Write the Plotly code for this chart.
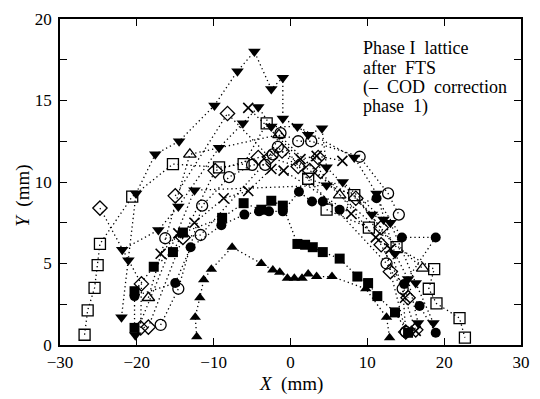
import plotly.graph_objects as go

# ---- data (mm) ----
tri_down1_x = [-22.0, -21.1, -20.1, -17.6, -14.5, -9.9, -6.9, -4.7, -2.5, -1.0, -1.0, 8.3, 11.2, 13.6, 15.3, 16.6]
tri_down1_y = [1.7, 5.2, 9.3, 11.7, 12.5, 14.7, 16.8, 18.0, 15.7, 16.4, 13.9, 11.5, 9.3, 5.6, 4.05, 1.35]
tri_down2_x = [-21.9, -17.2, -14.6, -9.3, -6.2, -4.2, -2.5, 0.9, 2.3, 4.1, 4.7, 10.6, 13.0, 16.3, 18.6]
tri_down2_y = [5.85, 7.05, 8.5, 12.1, 13.6, 14.6, 13.4, 13.4, 12.9, 13.3, 10.9, 8.0, 7.5, 3.8, 1.35]
tri_down3_x = [-20.2, -12.5, 4.7, 6.8, 12.1]
tri_down3_y = [0.6, 9.5, 9.8, 10.0, 7.7]

sq_open1_x = [-26.8, -26.4, -25.5, -25.1, -24.8, -20.6, -15.3, -9.3, -6.1, -3.1, 2.3, 8.3, 13.8, 18.7, 18.0, 19.0, 22.0, 22.7]
sq_open1_y = [0.63, 2.13, 3.5, 4.9, 6.2, 9.1, 11.1, 10.9, 11.1, 13.6, 10.2, 9.2, 6.0, 4.65, 3.45, 2.55, 1.65, 0.45]
sq_open2_x = [4.7, 10.2]
sq_open2_y = [8.3, 7.2]

dia1_x = [-24.8, -19.4, -19.5, -18.5, -14.0, -9.8, -4.2, -1.1, 2.5, 8.5, 11.8, 13.0, 15.0, 16.3]
dia1_y = [8.4, 3.75, 1.05, 1.1, 6.6, 10.7, 11.5, 11.9, 10.7, 9.0, 7.2, 4.5, 0.8, 0.93]
dia2_x = [-15.0, -8.2, -2.7, 1.0, 3.6, 3.9, 11.8, 15.3]
dia2_y = [9.15, 14.2, 11.5, 10.95, 11.5, 10.65, 6.15, 2.9]

circ_open1_x = [-16.9, -14.6, -11.5, -8.0, -5.0, -3.3, -1.3, 1.0, 2.7, 9.0, 12.7, 14.1]
circ_open1_y = [1.23, 3.45, 8.55, 10.3, 11.05, 11.05, 13.0, 12.5, 12.5, 11.55, 9.3, 8.0]
circ_open2_x = [-16.3, -11.7, -2.3, -1.65, 12.5, 14.6, 15.0]
circ_open2_y = [6.55, 6.75, 11.7, 12.15, 5.0, 3.45, 0.8]

circ_fill_x = [-20.3, -15.0, -13.0, -9.0, -6.0, -4.1, -2.8, -1.0, 1.1, 2.8, 4.2, 6.4, 11.2, 14.5, 18.9, 14.8, 16.8, 18.9]
circ_fill_y = [3.0, 3.8, 6.0, 7.35, 8.0, 8.2, 8.2, 8.2, 9.4, 8.8, 8.8, 8.3, 9.0, 6.6, 6.6, 3.75, 2.4, 0.75]

sq_fill_x = [-20.3, -20.3, -17.8, -15.3, -14.0, -8.9, -6.1, -3.8, -2.5, -1.0, 0.9, 1.9, 2.9, 4.2, 6.4, 8.7, 10.1, 11.3, 13.6, 15.3]
sq_fill_y = [1.05, 3.3, 4.8, 5.7, 6.9, 7.8, 8.7, 8.3, 8.85, 8.55, 6.2, 6.15, 6.0, 5.7, 5.3, 4.2, 3.8, 3.0, 2.0, 0.75]

tri_up_x = [-12.2, -12.4, -11.8, -11.3, -10.3, -7.6, -3.8, -2.3, -1.4, -0.4, 0.5, 1.5, 2.3, 3.4, 5.4, 9.8, 12.5, 12.9]
tri_up_y = [0.5, 1.71, 2.9, 4.0, 4.65, 6.0, 5.0, 4.6, 4.47, 4.1, 4.1, 4.1, 4.35, 4.2, 4.2, 3.45, 1.7, 0.45]

tri_open_x = [-18.5, -13.1, -1.5, 6.4, 17.2]
tri_open_y = [2.9, 11.7, 12.9, 9.2, 4.7]

cross1_x = [-16.9, -14.6, -12.5, -8.7, -5.5, -2.5, -0.9, 7.9, 11.1, 13.0, 14.9, 16.3]
cross1_y = [5.6, 6.85, 7.5, 9.0, 9.45, 10.8, 10.7, 8.05, 6.6, 5.9, 2.9, 0.87]
cross2_x = [-5.5, 1.3, 3.4, 6.75]
cross2_y = [14.55, 11.4, 11.6, 11.3]

x_tick_vals = [-30, -20, -10, 0, 10, 20, 30]
x_tick_text = ["\u221230", "\u221220", "\u221210", "0", "10", "20", "30"]
y_tick_vals = [0, 2.5, 5, 7.5, 10, 12.5, 15, 17.5, 20]
y_tick_text = ["0", "", "5", "", "10", "", "15", "", "20"]

note_lines = ["Phase I  lattice", "after  FTS", "(\u2013  COD  correction", "phase  1)"]

FONT = "Liberation Serif"

fig = go.Figure()

def add(xs, ys, symbol, size=10, lw=1.3):
    fig.add_trace(go.Scatter(
        x=xs, y=ys, mode="lines+markers",
        line=dict(color="black", width=1.3, dash="1.3px,3px"),
        marker=dict(symbol=symbol, size=size, color="black",
                    line=dict(color="black", width=lw)),
        showlegend=False, cliponaxis=False))

add(tri_up_x, tri_up_y, "triangle-up", 10, 0)
add(sq_fill_x, sq_fill_y, "square", 10, 0)
add(circ_fill_x, circ_fill_y, "circle", 10, 0)
add(tri_down1_x, tri_down1_y, "triangle-down", 11, 0)
add(tri_down2_x, tri_down2_y, "triangle-down", 11, 0)
add(tri_down3_x, tri_down3_y, "triangle-down", 11, 0)
add(sq_open1_x, sq_open1_y, "square-open", 11)
add(sq_open2_x, sq_open2_y, "square-open", 11)
add(dia1_x, dia1_y, "diamond-open", 11)
add(dia2_x, dia2_y, "diamond-open", 11)
add(circ_open1_x, circ_open1_y, "circle-open", 11)
add(circ_open2_x, circ_open2_y, "circle-open", 11)
add(tri_open_x, tri_open_y, "triangle-up-open", 11)
add(cross1_x, cross1_y, "x-thin-open", 10, 1.6)
add(cross2_x, cross2_y, "x-thin-open", 10, 1.6)

axis_common = dict(showline=True, linecolor="black", linewidth=1.5, mirror="ticks",
                   ticks="inside", ticklen=7, tickwidth=1.2, tickcolor="black",
                   showgrid=False, zeroline=False,
                   tickfont=dict(family=FONT, size=17, color="black"))

fig.update_xaxes(range=[-30, 30], tickmode="array", tickvals=x_tick_vals,
                 ticktext=x_tick_text, ticklabelstandoff=1, **axis_common)
fig.update_yaxes(range=[0, 20], tickmode="array", tickvals=y_tick_vals,
                 ticktext=y_tick_text, ticklabelstandoff=3, **axis_common)

fig.add_annotation(xref="paper", yref="paper", x=0.5, y=(345.5 - 385) / 332.5,
                   yanchor="middle", text="<i>X</i>  (mm)", showarrow=False,
                   font=dict(family=FONT, size=19, color="black"))
fig.add_annotation(xref="paper", yref="paper", x=(22 - 59.5) / 470.5,
                   y=(345.5 - 193) / 332.5, xanchor="center", yanchor="middle",
                   text="<i>Y</i>  (mm)", textangle=-90, showarrow=False,
                   font=dict(family=FONT, size=19, color="black"))

note_y_px = [43, 63, 83, 102]
for line, ypx in zip(note_lines, note_y_px):
    fig.add_annotation(xref="paper", yref="paper", x=(367 - 59.5) / 470.5,
                       y=(345.5 - ypx) / 332.5, xanchor="left", yanchor="middle",
                       text=line, showarrow=False,
                       font=dict(family=FONT, size=18, color="black"))

fig.update_layout(width=540, height=399, margin=dict(l=60, r=10, t=13, b=54),
                  paper_bgcolor="white", plot_bgcolor="white",
                  font=dict(family=FONT, color="black"))

fig.write_html("out.html")
